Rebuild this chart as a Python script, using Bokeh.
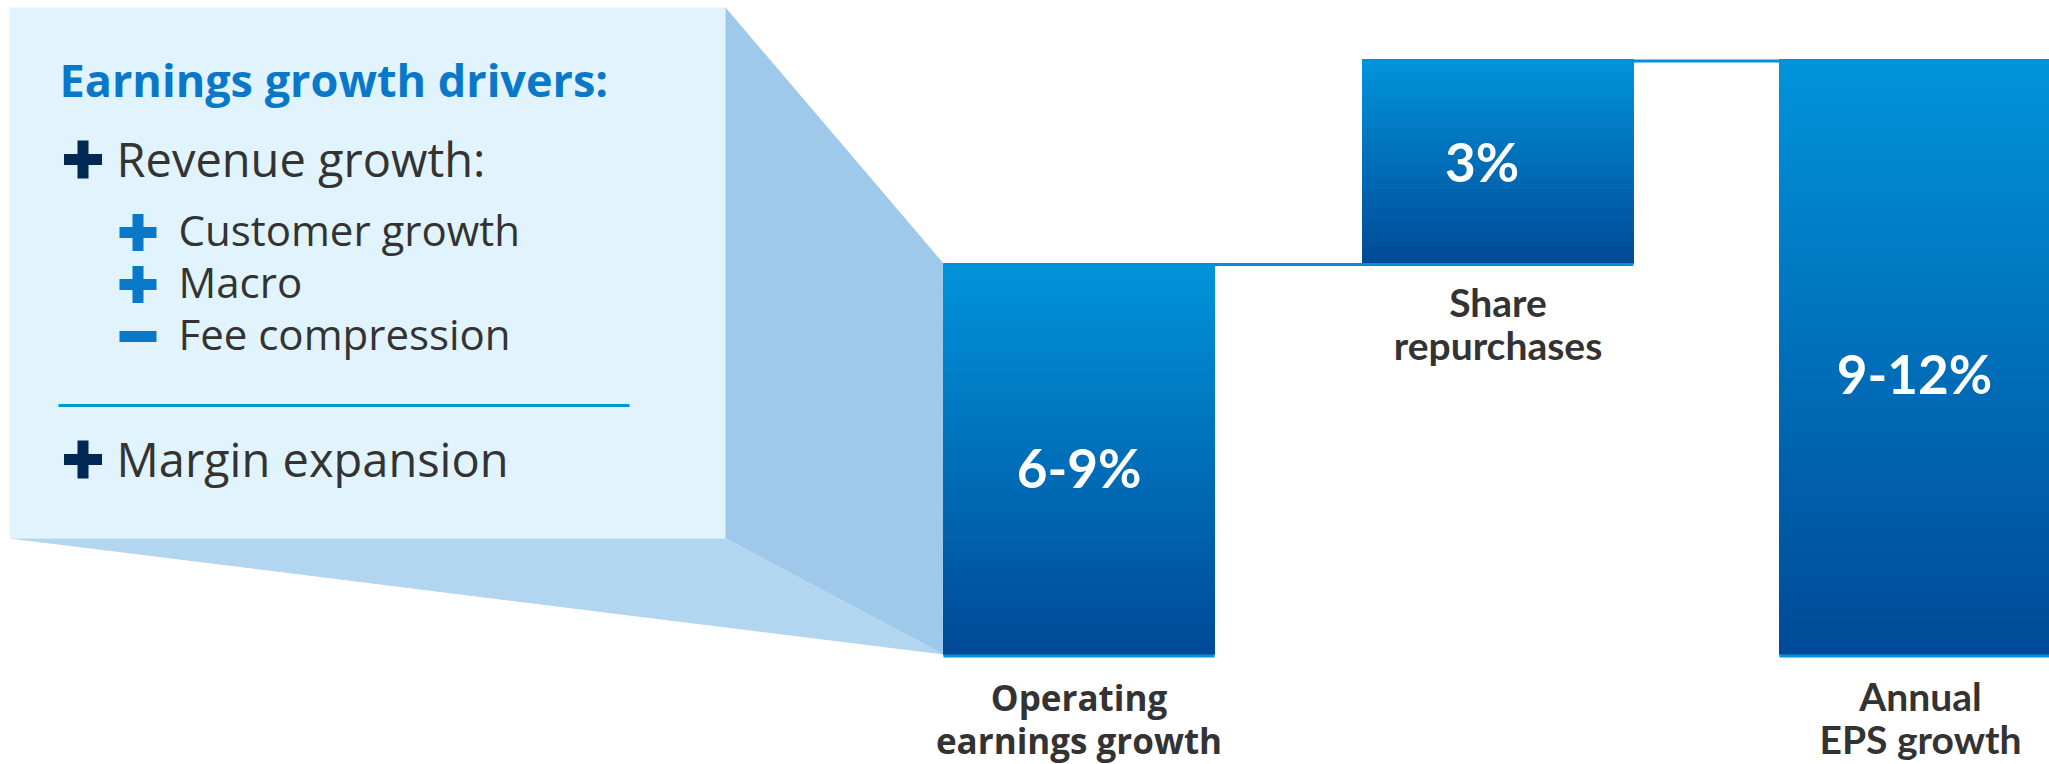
from bokeh.plotting import figure
from bokeh.models import Range1d
from bokeh.core.properties import value
from bokeh.embed import file_html
from bokeh.resources import INLINE

# ---------------- data ----------------
categories = [["Operating", "earnings growth"], ["Share", "repurchases"], ["Annual", "EPS growth"]]
value_labels = ["6-9%", "3%", "9-12%"]
step_values = [6.9, 3.6]          # bar heights as drawn (operating growth, buybacks)
panel_title = "Earnings growth drivers:"
driver_labels = ["Revenue growth:", "Customer growth", "Macro", "Fee compression", "Margin expansion"]
driver_signs = ["+", "+", "+", "-", "+"]
driver_levels = [0, 1, 1, 1, 0]

total_value = step_values[0] + step_values[1]
bar_bottoms = [0.0, step_values[0], 0.0]
bar_tops = [step_values[0], total_value, total_value]

# ---------------- layout ----------------
W, H = 2049, 764
BASE_PX, TOP_PX = 654, 59
PPU = (BASE_PX - TOP_PX) / total_value          # pixels per unit
SHIFT = 0.4                                     # baseline correction (em)


def px2v(px):
    return (BASE_PX - px) / PPU


bar_left = [943, 1362, 1779]
bar_right = [1214, 1633, 2060]

p = figure(width=W, height=H, output_backend="svg", toolbar_location=None,
           x_range=Range1d(0, W), y_range=Range1d(px2v(H), px2v(0)),
           x_axis_location=None, y_axis_location=None, min_border=0,
           outline_line_color=None, background_fill_color="white")
p.grid.visible = False
p.extra_y_ranges = {"px": Range1d(start=H, end=0)}

# ---------------- left panel ----------------
BOX_L, BOX_R, BOX_T, BOX_B = 9, 725, 7, 538
p.quad(left=[BOX_L], right=[BOX_R], top=[BOX_T], bottom=[BOX_B], y_range_name="px",
       fill_color="#E1F3FC", line_color=None)
# right face (connects panel to the first bar)
p.patch(x=[BOX_R, bar_left[0], bar_left[0], BOX_R],
        y=[px2v(BOX_T), bar_tops[0], bar_bottoms[0], px2v(BOX_B)],
        fill_color="#9EC9EA", line_color=None)
# bottom face
p.patch(x=[BOX_L, BOX_R, bar_left[0]],
        y=[px2v(BOX_B), px2v(BOX_B), bar_bottoms[0]],
        fill_color="#B2D6F0", line_color=None)

TITLE_SIZE = 45
p.text(x=[59], y=[97 - SHIFT * TITLE_SIZE], text=[panel_title], y_range_name="px",
       text_font=value("Open Sans"), text_font_style="bold", text_font_size=f"{TITLE_SIZE}px",
       text_color="#0A78C8", text_baseline="alphabetic", text_align="left")

baselines = [177, 246, 298, 350, 477]
text_x = [116, 178]
sign_cx = [82.5, 137.5]
sign_half = [19, 18.5]
sign_col = ["#002855", "#0A78C8"]
font_px = [47, 42]
STROKE = 11
for lab, sg, lv, bl in zip(driver_labels, driver_signs, driver_levels, baselines):
    cy = bl - (18 if lv == 0 else 14)
    cx = sign_cx[lv]
    hs = sign_half[lv]
    # horizontal bar
    p.quad(left=[cx - hs], right=[cx + hs], top=[cy - STROKE / 2], bottom=[cy + STROKE / 2],
           y_range_name="px", fill_color=sign_col[lv], line_color=None)
    if sg == "+":
        p.quad(left=[cx - STROKE / 2], right=[cx + STROKE / 2], top=[cy - hs], bottom=[cy + hs],
               y_range_name="px", fill_color=sign_col[lv], line_color=None)
    p.text(x=[text_x[lv]], y=[bl - SHIFT * font_px[lv]], text=[lab], y_range_name="px",
           text_font=value("Open Sans"), text_font_size=f"{font_px[lv]}px",
           text_color="#333333", text_baseline="alphabetic", text_align="left")

# separator line
p.segment(x0=[58], x1=[629], y0=[405], y1=[405], y_range_name="px",
          line_color="#0096D6", line_width=3)

# ---------------- gradient bars ----------------
TOP_RGB = (0x00, 0x94, 0xDB)
BOT_RGB = (0x00, 0x4A, 0x97)
N = 90
ql, qr, qt, qb, qc = [], [], [], [], []
for l, r, b, t in zip(bar_left, bar_right, bar_bottoms, bar_tops):
    for i in range(N):
        f0 = i / N
        f1 = (i + 1) / N
        fm = (i + 0.5) / N
        col = tuple(int(round(TOP_RGB[k] + (BOT_RGB[k] - TOP_RGB[k]) * fm)) for k in range(3))
        ql.append(l)
        qr.append(r)
        qt.append(t - (t - b) * f0)
        qb.append(t - (t - b) * f1)
        qc.append("#%02x%02x%02x" % col)
p.quad(left=ql, right=qr, top=qt, bottom=qb, fill_color=qc, line_color=qc, line_width=1)

LINE_COL = "#0091DA"
# baseline strips under bars 1 and 3
p.segment(x0=[bar_left[0], bar_left[2]], x1=[bar_right[0], bar_right[2]],
          y0=[bar_bottoms[0] - 1.5 / PPU] * 2, y1=[bar_bottoms[0] - 1.5 / PPU] * 2,
          line_color=LINE_COL, line_width=3)
# connector: top of bar 1 to bottom of bar 2
p.segment(x0=[bar_left[0]], x1=[bar_right[1]], y0=[bar_tops[0] - 1 / PPU], y1=[bar_tops[0] - 1 / PPU],
          line_color=LINE_COL, line_width=3)
# connector: top of bar 2 to top of bar 3
p.segment(x0=[bar_left[1]], x1=[bar_right[2]], y0=[bar_tops[1] - 1.5 / PPU], y1=[bar_tops[1] - 1.5 / PPU],
          line_color=LINE_COL, line_width=3)

# value labels
VAL_SIZE = 53
label_dy = [29.5, 21, 37.5]   # px below bar middle to baseline
label_dx = [0, -16, 0]
for i, lab in enumerate(value_labels):
    mid = (bar_bottoms[i] + bar_tops[i]) / 2
    p.text(x=[(bar_left[i] + min(bar_right[i], W)) / 2 + label_dx[i]],
           y=[mid - (label_dy[i] - SHIFT * VAL_SIZE) / PPU],
           text=[lab], text_font=value("Lato"), text_font_style="bold", text_font_size=f"{VAL_SIZE}px",
           text_color="white", text_align="center", text_baseline="alphabetic")

# category labels below each bar
cat_font = ["Open Sans", "Lato", "Lato"]
cat_size = [35, 39, 39]
cat_first = [57, 54, 57]
LINE_GAP = 43
for i, lines in enumerate(categories):
    cx = (bar_left[i] + min(bar_right[i], W)) / 2
    if i == 2:
        cx = 1920
    for j, ln in enumerate(lines):
        yy = bar_bottoms[i] - (cat_first[i] + j * LINE_GAP - SHIFT * cat_size[i]) / PPU
        p.text(x=[cx], y=[yy], text=[ln], text_font=value(cat_font[i]), text_font_style="bold",
               text_font_size=f"{cat_size[i]}px", text_color="#333333", text_align="center",
               text_baseline="alphabetic")

open("out.html", "w").write(file_html(p, INLINE))
